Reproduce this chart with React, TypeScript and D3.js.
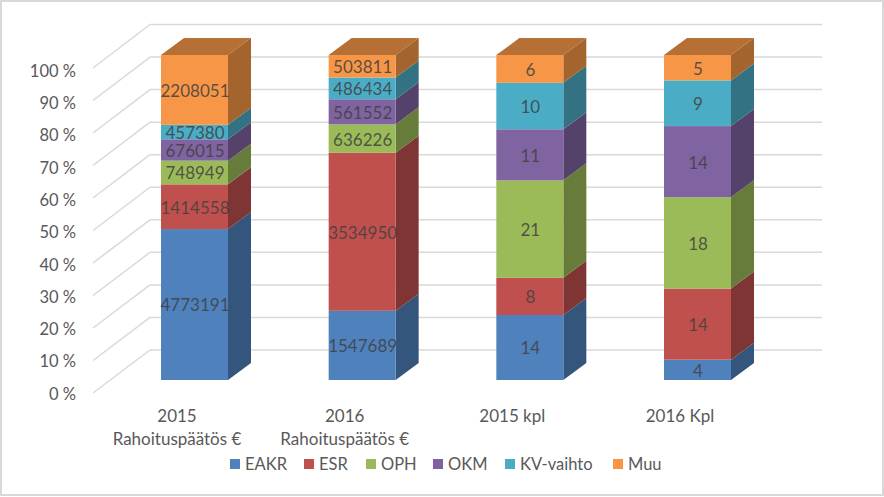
import * as d3 from 'd3';

const categories = ['2015 Rahoituspäätös €', '2016 Rahoituspäätös €', '2015 kpl', '2016 Kpl'];
const categoryLines = [['2015', 'Rahoituspäätös €'], ['2016', 'Rahoituspäätös €'], ['2015 kpl'], ['2016 Kpl']];
const seriesNames = ['EAKR', 'ESR', 'OPH', 'OKM', 'KV-vaihto', 'Muu'];
const seriesColors = ['#4f81bd', '#c0504d', '#9bbb59', '#8064a2', '#4bacc6', '#f79646'];
const legendX = [230, 304, 366, 433, 505, 613];

const eakr = [4773191, 1547689, 14, 4];
const esr = [1414558, 3534950, 8, 14];
const oph = [748949, 636226, 21, 18];
const okm = [676015, 561552, 11, 14];
const kvVaihto = [457380, 486434, 10, 9];
const muu = [2208051, 503811, 6, 5];

const seriesValues = [eakr, esr, oph, okm, kvVaihto, muu];
const ticks = [0, 0.1, 0.2, 0.3, 0.4, 0.5, 0.6, 0.7, 0.8, 0.9, 1];

const WIDTH = 884;
const HEIGHT = 497;
const FONT = 'Lato, "Open Sans", sans-serif';
const TEXT = '#595959';

// depth of the fake 3D box
const depthX = 23;
const depthY = -17;

const yFront = d3.scaleLinear().domain([0, 1]).range([380, 55]);
const yBack = d3.scaleLinear().domain([0, 1]).range([350, 24.5]);
const yAxis = d3.scaleLinear().domain([0, 1]).range([393, 68]);
const yLabel = d3.scaleLinear().domain([0, 1]).range([394, 71]);

const xBar = d3.scalePoint<string>().domain(categories).range([161, 664]);
const barWidth = 67;

const rows = categories.map((c, i) => {
  const row: Record<string, number | string> = { category: c };
  seriesNames.forEach((s, j) => {
    row[s] = seriesValues[j][i];
  });
  return row;
});

const stacked = d3
  .stack<Record<string, number | string>>()
  .keys(seriesNames)
  .offset(d3.stackOffsetExpand)(rows as any);

const poly = d3.line<[number, number]>();

export default function App() {
  return (
    <svg width={WIDTH} height={HEIGHT} style={{ position: 'absolute', left: 0, top: 0, background: '#fff' }}>
      <rect x={1} y={1} width={WIDTH - 2} height={HEIGHT - 3} fill="#fff" stroke="#d9d9d9" strokeWidth={2} />

      {ticks.map((t) => (
        <g key={t} fill="none" stroke="#d9d9d9" strokeWidth={1.5}>
          <line x1={93} y1={yAxis(t)} x2={150} y2={yBack(t)} />
          <line x1={150} y1={yBack(t)} x2={822} y2={yBack(t)} />
        </g>
      ))}

      {ticks.map((t) => (
        <text key={t} x={76} y={yLabel(t)} dy="0.35em" textAnchor="end" fontFamily={FONT} fontSize={16.5} fill={TEXT}>
          {`${Math.round(t * 100)} %`}
        </text>
      ))}

      {categories.map((c, i) => {
        const left = xBar(c) as number;
        return (
          <g key={c}>
            {stacked.map((layer, j) => {
              const [y0, y1] = layer[i];
              const color = d3.color(seriesColors[j]) as d3.RGBColor;
              const side = poly([
                [left + barWidth, yFront(y0)],
                [left + barWidth + depthX, yFront(y0) + depthY],
                [left + barWidth + depthX, yFront(y1) + depthY],
                [left + barWidth, yFront(y1)],
              ]) as string;
              return <path key={j} d={side} fill={color.darker(1.15).formatHex()} />;
            })}
            <path
              d={
                poly([
                  [left, yFront(1)],
                  [left + depthX, yFront(1) + depthY],
                  [left + barWidth + depthX, yFront(1) + depthY],
                  [left + barWidth, yFront(1)],
                ]) as string
              }
              fill={(d3.color(seriesColors[5]) as d3.RGBColor).darker(0.85).formatHex()}
            />
            {stacked.map((layer, j) => {
              const [y0, y1] = layer[i];
              return (
                <rect
                  key={j}
                  x={left}
                  y={yFront(y1)}
                  width={barWidth}
                  height={yFront(y0) - yFront(y1)}
                  fill={seriesColors[j]}
                />
              );
            })}
            {stacked.map((layer, j) => {
              const [y0, y1] = layer[i];
              return (
                <text
                  key={j}
                  x={left + barWidth / 2 + 0.5}
                  y={(yFront(y0) + yFront(y1)) / 2 + 1}
                  dy="0.35em"
                  textAnchor="middle"
                  fontFamily={FONT}
                  fontSize={17}
                  fill="#404040"
                  fillOpacity={0.85}
                >
                  {seriesValues[j][i]}
                </text>
              );
            })}
            {categoryLines[i].map((line, k) => (
              <text
                key={k}
                x={left + barWidth / 2 - 17.5}
                y={416 + k * 23}
                dy="0.35em"
                textAnchor="middle"
                fontFamily={FONT}
                fontSize={17}
                fill={TEXT}
              >
                {line}
              </text>
            ))}
          </g>
        );
      })}

      {seriesNames.map((s, j) => (
        <g key={s}>
          <rect x={legendX[j]} y={459} width={10} height={10} fill={seriesColors[j]} />
          <text x={legendX[j] + 15} y={464} dy="0.35em" fontFamily={FONT} fontSize={16.5} fill={TEXT}>
            {s}
          </text>
        </g>
      ))}
    </svg>
  );
}
